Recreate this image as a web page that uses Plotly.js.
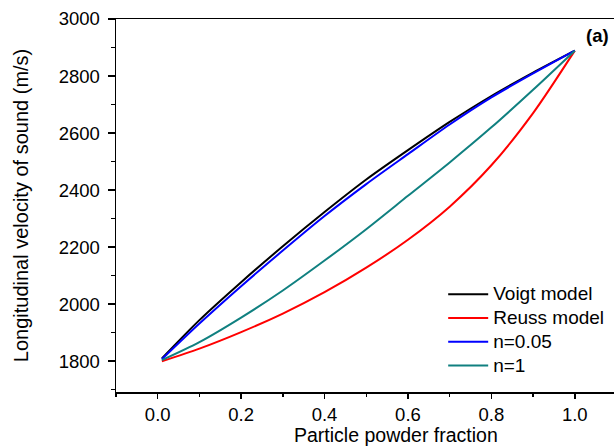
<!DOCTYPE html>
<html>
<head>
<meta charset="utf-8">
<script src="https://cdn.plot.ly/plotly-3.0.1.min.js"></script>
<style>
html,body{margin:0;padding:0;background:#fff;}
#chart{width:614px;height:446px;}
</style>
</head>
<body>
<div id="chart"></div>
<script>
// Particle powder fraction
const fraction = [0.01, 0.1, 0.2, 0.3, 0.4, 0.5, 0.6, 0.7, 0.8, 0.9, 1.0];
// Longitudinal velocity of sound (m/s)
const voigt  = [1810, 1944, 2077, 2203, 2323, 2437, 2540, 2639, 2730, 2812, 2889];
const reuss  = [1800, 1844, 1902, 1967, 2042, 2128, 2226, 2342, 2487, 2670, 2889];
const n005   = [1807, 1932, 2063, 2188, 2309, 2421, 2526, 2630, 2725, 2809, 2889];
const n1     = [1804, 1867, 1953, 2048, 2153, 2263, 2380, 2497, 2620, 2752, 2889];

const seriesNames = ["Voigt model", "Reuss model", "n=0.05", "n=1"];
const seriesColors = ["#000000", "#ff0000", "#0000ff", "#108080"];
const seriesData = [voigt, reuss, n005, n1];

const xTickVals = [0.0, 0.2, 0.4, 0.6, 0.8, 1.0];
const xTickText = ["0.0", "0.2", "0.4", "0.6", "0.8", "1.0"];
const yTickVals = [1800, 2000, 2200, 2400, 2600, 2800, 3000];
const yTickText = ["1800", "2000", "2200", "2400", "2600", "2800", "3000"];

const xTitle = "Particle powder fraction";
const yTitle = "Longitudinal velocity of sound (m/s)";

const fam = "Liberation Sans, Arial, sans-serif";

const traces = seriesData.map((ys, i) => ({
  x: fraction, y: ys, type: "scatter", mode: "lines",
  name: '<span style="font-size:19px">' + seriesNames[i] + '</span>',
  line: {color: seriesColors[i], width: 2, shape: "spline", smoothing: 0.8}
}));

const tickFont = {family: fam, size: 18.5, color: "#000"};

const layout = {
  width: 614, height: 446,
  margin: {l: 116, r: 0, t: 19, b: 54},
  paper_bgcolor: "#fff", plot_bgcolor: "#fff",
  font: {family: fam, size: 17, color: "#000"},
  showlegend: true,
  legend: {x: 0.657, y: 0.3075, xanchor: "left", yanchor: "top",
           itemwidth: 40,
           font: {family: fam, size: 16, color: "#000"},
           bgcolor: "rgba(0,0,0,0)", tracegroupgap: 0},
  xaxis: {
    range: [-0.1, 1.094], showgrid: false, zeroline: false,
    showline: true, linecolor: "#000", linewidth: 1.5, mirror: true,
    ticks: "outside", ticklen: 5, tickwidth: 1.5, tickcolor: "#000",
    tickvals: xTickVals, ticktext: xTickText,
    minor: {dtick: 0.1, tick0: 0, ticks: "outside", ticklen: 3.5, tickwidth: 1.5, tickcolor: "#000", showgrid: false},
    tickfont: tickFont
  },
  yaxis: {
    range: [1692, 3000], showgrid: false, zeroline: false,
    showline: true, linecolor: "#000", linewidth: 1.5, mirror: false,
    ticks: "outside", ticklen: 7, tickwidth: 1.5, tickcolor: "#000",
    ticklabelstandoff: 4,
    tickvals: yTickVals, ticktext: yTickText,
    minor: {dtick: 100, tick0: 0, ticks: "outside", ticklen: 4, tickwidth: 1.5, tickcolor: "#000", showgrid: false},
    title: {text: yTitle, font: {family: fam, size: 20, color: "#000"}, standoff: 24},
    tickfont: tickFont
  },
  annotations: [{
    text: "<b>(a)</b>", xref: "paper", yref: "paper", x: 0.966, y: 0.957,
    xanchor: "center", yanchor: "middle",
    showarrow: false, font: {family: fam, size: 18.5, color: "#000"}
  }, {
    text: xTitle, xref: "paper", yref: "paper", x: 0.562, y: -0.114,
    xanchor: "center", yanchor: "middle",
    showarrow: false, font: {family: fam, size: 19.5, color: "#000"}
  }]
};

Plotly.newPlot("chart", traces, layout, {displayModeBar: false, staticPlot: true});
</script>
</body>
</html>
